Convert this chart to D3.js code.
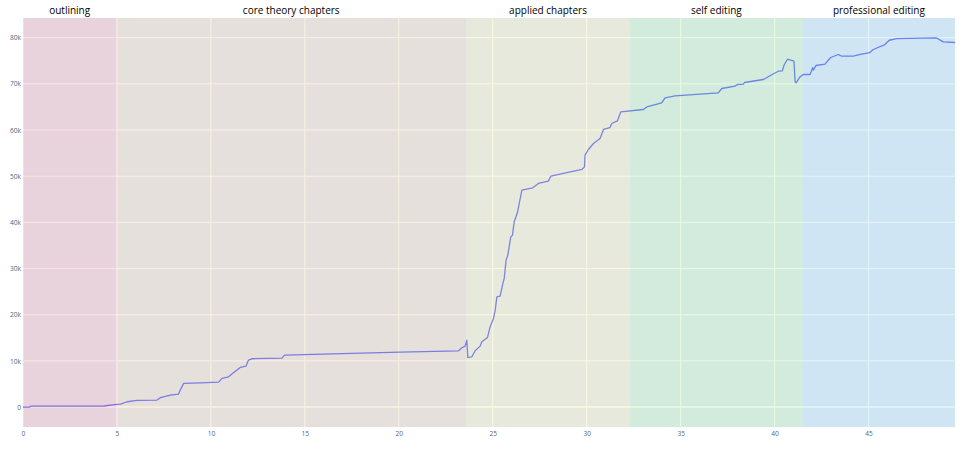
<!DOCTYPE html>
<html>
<head>
<meta charset="utf-8">
<script src="https://d3js.org/d3.v7.min.js"></script>
<style>
  body { margin: 0; background: #fff; }
  text { font-family: "Open Sans", Verdana, Arial, sans-serif; }
</style>
</head>
<body>
<div id="chart"></div>
<script>
// word count over time (x = days, y = words)
var days = [0, 0.35, 0.4, 4.1, 4.3, 5.0, 5.19, 5.54, 6.07, 7.13, 7.31, 7.84, 8.28, 8.37, 8.55, 9.44, 10.41, 10.59, 10.94, 11.2,
  11.56, 11.87, 12.0, 12.18, 13.78, 13.92, 20.07, 23.18, 23.36, 23.53, 23.62, 23.67, 23.89, 24.06, 24.33, 24.42, 24.72, 24.86,
  25.04, 25.13, 25.22, 25.39, 25.54, 25.61, 25.71, 25.8, 25.96, 26.05, 26.14, 26.31, 26.55, 27.13, 27.43, 27.96, 28.09, 29.74,
  29.88, 29.91, 30.09, 30.36, 30.71, 30.89, 31.24, 31.33, 31.63, 31.81, 33.02, 33.2, 33.99, 34.17, 34.7, 37.0, 37.19, 37.89,
  38.02, 38.34, 38.39, 39.4, 39.97, 40.2, 40.41, 40.5, 40.68, 41.03, 41.09, 41.14, 41.35, 41.53, 41.88, 41.94, 42.03, 42.06,
  42.2, 42.68, 42.98, 43.39, 43.57, 44.19, 44.63, 45.07, 45.25, 45.87, 46.1, 46.5, 48.62, 48.97, 49.6];
var words = [0, 0, 200, 220, 230, 600, 650, 1150, 1450, 1520, 2020, 2600, 2810, 3680, 5130, 5260, 5410, 6210, 6560, 7430,
  8590, 8880, 10180, 10460, 10610, 11260, 11900, 12190, 12840, 13200, 14500, 10760, 10890, 12190, 13200, 14140, 15090, 17390,
  19200, 21000, 23880, 24030, 26780, 27860, 31830, 32910, 36870, 37240, 40120, 42070, 46980, 47480, 48430, 48930, 50010, 51460,
  52030, 54560, 55790, 57090, 58170, 60120, 60550, 61420, 61980, 63930, 64450, 65010, 65880, 66960, 67400, 68050, 69000, 69500,
  69860, 69930, 70300, 70950, 72250, 72740, 72810, 74040, 75340, 74910, 70430, 70210, 71510, 72030, 72030, 72590, 73540, 72960,
  73980, 74260, 75710, 76360, 75990, 75990, 76420, 76790, 77440, 78520, 79450, 79820, 79950, 79090, 78960];

// writing phases
var phaseNames = ["outlining", "core theory chapters", "applied chapters", "self editing", "professional editing"];
var phaseStart = [0, 4.97, 23.58, 32.3, 41.5];
var phaseEnd = [4.97, 23.58, 32.3, 41.5, 49.6];
var phaseColors = ["#f4747e", "#eab579", "#eae274", "#8bec79", "#7cceec"];

var xTicks = [0, 5, 10, 15, 20, 25, 30, 35, 40, 45];
var yTicks = [0, 10000, 20000, 30000, 40000, 50000, 60000, 70000, 80000];

var W = 966, H = 450;
var margin = {top: 18, right: 11, bottom: 23, left: 23};
var width = W - margin.left - margin.right,
    height = H - margin.top - margin.bottom;

var svg = d3.select("#chart").append("svg")
  .attr("width", W)
  .attr("height", H);

var g = svg.append("g")
  .attr("transform", "translate(" + margin.left + "," + margin.top + ")");

var data = days.map(function(d, i) { return {x: d, y: words[i]}; });

var x = d3.scaleLinear()
  .domain(d3.extent(days))
  .range([0, width]);

var yMin = d3.min(words), yMax = d3.max(words), pad = (yMax - yMin) * 0.054;
var y = d3.scaleLinear()
  .domain([yMin - pad, yMax + pad])
  .range([height, 0]);

// plot background
g.append("rect")
  .attr("width", width)
  .attr("height", height)
  .attr("fill", "#e5ecf6");

// grid
g.selectAll(".xgrid").data(xTicks).enter().append("line")
  .attr("x1", function(d) { return x(d); })
  .attr("x2", function(d) { return x(d); })
  .attr("y1", 0).attr("y2", height)
  .attr("stroke", "#fff")
  .attr("stroke-width", 1);

g.selectAll(".ygrid").data(yTicks).enter().append("line")
  .attr("y1", function(d) { return y(d); })
  .attr("y2", function(d) { return y(d); })
  .attr("x1", 0).attr("x2", width)
  .attr("stroke", "#fff")
  .attr("stroke-width", function(d) { return d === 0 ? 1.5 : 1; });

// the word count line
var line = d3.line()
  .x(function(d) { return x(d.x); })
  .y(function(d) { return y(d.y); });

g.append("path")
  .datum(data)
  .attr("d", line)
  .attr("fill", "none")
  .attr("stroke", "#636efa")
  .attr("stroke-width", 1.3)
  .attr("stroke-linejoin", "round");

// phase bands (drawn above, translucent)
g.selectAll(".band").data(phaseNames).enter().append("rect")
  .attr("x", function(d, i) { return x(phaseStart[i]); })
  .attr("width", function(d, i) { return x(phaseEnd[i]) - x(phaseStart[i]); })
  .attr("y", 0)
  .attr("height", height)
  .attr("fill", function(d, i) { return phaseColors[i]; })
  .attr("opacity", 0.2);

// phase labels
g.selectAll(".plabel").data(phaseNames).enter().append("text")
  .attr("x", function(d, i) { return (x(phaseStart[i]) + x(phaseEnd[i])) / 2; })
  .attr("y", -4)
  .attr("text-anchor", "middle")
  .style("font-size", "10px")
  .attr("fill", "#000")
  .text(function(d) { return d; });

// axes
var yFmt = function(d) { return d === 0 ? "0" : (d / 1000) + "k"; };

var xAxis = g.append("g")
  .attr("transform", "translate(0," + height + ")")
  .call(d3.axisBottom(x).tickValues(xTicks).tickSize(0).tickPadding(4));

var yAxis = g.append("g")
  .call(d3.axisLeft(y).tickValues(yTicks).tickFormat(yFmt).tickSize(0).tickPadding(2));

[xAxis, yAxis].forEach(function(a) {
  a.select(".domain").remove();
  a.selectAll("text")
    .attr("fill", "#506784")
    .style("font-size", "6.6px")
    .style("font-family", "'Open Sans', Verdana, Arial, sans-serif");
});
</script>
</body>
</html>
